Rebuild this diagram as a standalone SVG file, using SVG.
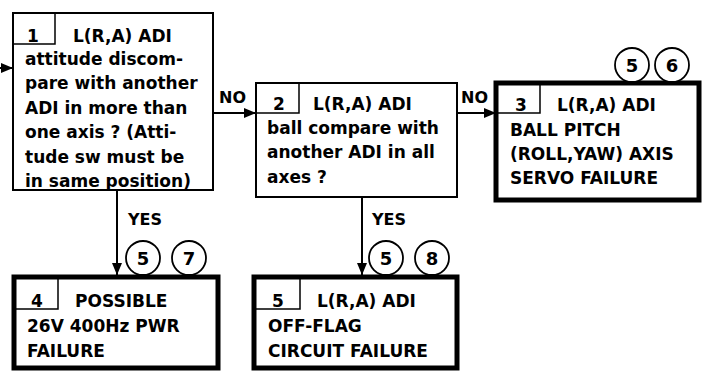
<svg xmlns="http://www.w3.org/2000/svg" width="702" height="372" viewBox="0 0 702 372">
<defs>
<marker id="ah" viewBox="0 0 12 10" refX="12" refY="5" markerWidth="12" markerHeight="10" markerUnits="userSpaceOnUse" orient="auto">
<path d="M0,0 L12,5 L0,10 Z" fill="#000"/>
</marker>
</defs>
<style>
.t{font-family:"DejaVu Sans","Liberation Sans",sans-serif;font-size:17px;font-weight:bold;fill:#000}
.lbl{font-family:"DejaVu Sans","Liberation Sans",sans-serif;font-size:16px;font-weight:bold;fill:#000}
.num{text-anchor:middle}
.thin{fill:#fff;stroke:#000;stroke-width:2}
.thick{fill:#fff;stroke:#000;stroke-width:5}
.nb{fill:none;stroke:#000;stroke-width:1.5}
.conn{stroke:#000;stroke-width:2;fill:none;marker-end:url(#ah)}
.circ{fill:#fff;stroke:#000;stroke-width:1.8}
.ct{font-family:"DejaVu Sans","Liberation Sans",sans-serif;font-size:18px;font-weight:bold;fill:#000;text-anchor:middle}
</style>
<rect width="702" height="372" fill="#fff"/>
<g id="connectors">
<line class="conn" x1="0" y1="68" x2="13" y2="68"/>
<line class="conn" x1="213" y1="113" x2="256" y2="113"/>
<text class="lbl" x="219" y="103">NO</text>
<line class="conn" x1="457" y1="113" x2="496" y2="113"/>
<text class="lbl" x="461" y="103">NO</text>
<line class="conn" x1="117" y1="190" x2="117" y2="275"/>
<text class="lbl" x="128" y="225">YES</text>
<line class="conn" x1="362" y1="197" x2="362" y2="275"/>
<text class="lbl" x="372" y="225">YES</text>
</g>
<g id="node1">
<rect class="thin" x="13" y="13" width="200" height="177"/>
<path class="nb" d="M13,44 H55 V13"/>
<text class="t num" x="33" y="42">1</text>
<text class="t" x="73" y="42">L(R,A) ADI</text>
<text class="t" x="25" y="65">attitude discom-</text>
<text class="t" x="25" y="89">pare with another</text>
<text class="t" x="25" y="114">ADI in more than</text>
<text class="t" x="25" y="138">one axis ?  (Atti-</text>
<text class="t" x="25" y="163">tude sw must be</text>
<text class="t" x="25" y="187">in same position)</text>
</g>
<g id="node2">
<rect class="thin" x="256" y="83" width="201" height="114"/>
<path class="nb" d="M256,113 H299 V83"/>
<text class="t num" x="279" y="110">2</text>
<text class="t" x="313" y="110">L(R,A) ADI</text>
<text class="t" x="267" y="134">ball compare with</text>
<text class="t" x="267" y="158">another ADI in all</text>
<text class="t" x="267" y="183">axes ?</text>
</g>
<g id="node3">
<rect class="thick" x="496" y="83" width="203" height="117"/>
<path class="nb" d="M496,113 H540 V83"/>
<text class="t num" x="521" y="111">3</text>
<text class="t" x="557" y="111">L(R,A) ADI</text>
<text class="t" x="510" y="136">BALL PITCH</text>
<text class="t" x="510" y="160">(ROLL,YAW) AXIS</text>
<text class="t" x="510" y="184">SERVO FAILURE</text>
<circle class="circ" cx="632" cy="65" r="17"/>
<text class="ct" x="632" y="72">5</text>
<circle class="circ" cx="672" cy="65" r="17"/>
<text class="ct" x="672" y="72">6</text>
</g>
<g id="node4">
<rect class="thick" x="14" y="277" width="204" height="91"/>
<path class="nb" d="M14,309 H58 V277"/>
<text class="t num" x="37" y="307">4</text>
<text class="t" x="75" y="307">POSSIBLE</text>
<text class="t" x="27" y="332">26V 400Hz PWR</text>
<text class="t" x="27" y="357">FAILURE</text>
<circle class="circ" cx="143" cy="258" r="17"/>
<text class="ct" x="143" y="265">5</text>
<circle class="circ" cx="189" cy="258" r="17"/>
<text class="ct" x="189" y="265">7</text>
</g>
<g id="node5">
<rect class="thick" x="254" y="277" width="203" height="91"/>
<path class="nb" d="M254,309 H300 V277"/>
<text class="t num" x="278" y="307">5</text>
<text class="t" x="317" y="307">L(R,A) ADI</text>
<text class="t" x="268" y="332">OFF-FLAG</text>
<text class="t" x="268" y="357">CIRCUIT FAILURE</text>
<circle class="circ" cx="386" cy="258" r="17"/>
<text class="ct" x="386" y="265">5</text>
<circle class="circ" cx="432" cy="258" r="17"/>
<text class="ct" x="432" y="265">8</text>
</g>
</svg>
